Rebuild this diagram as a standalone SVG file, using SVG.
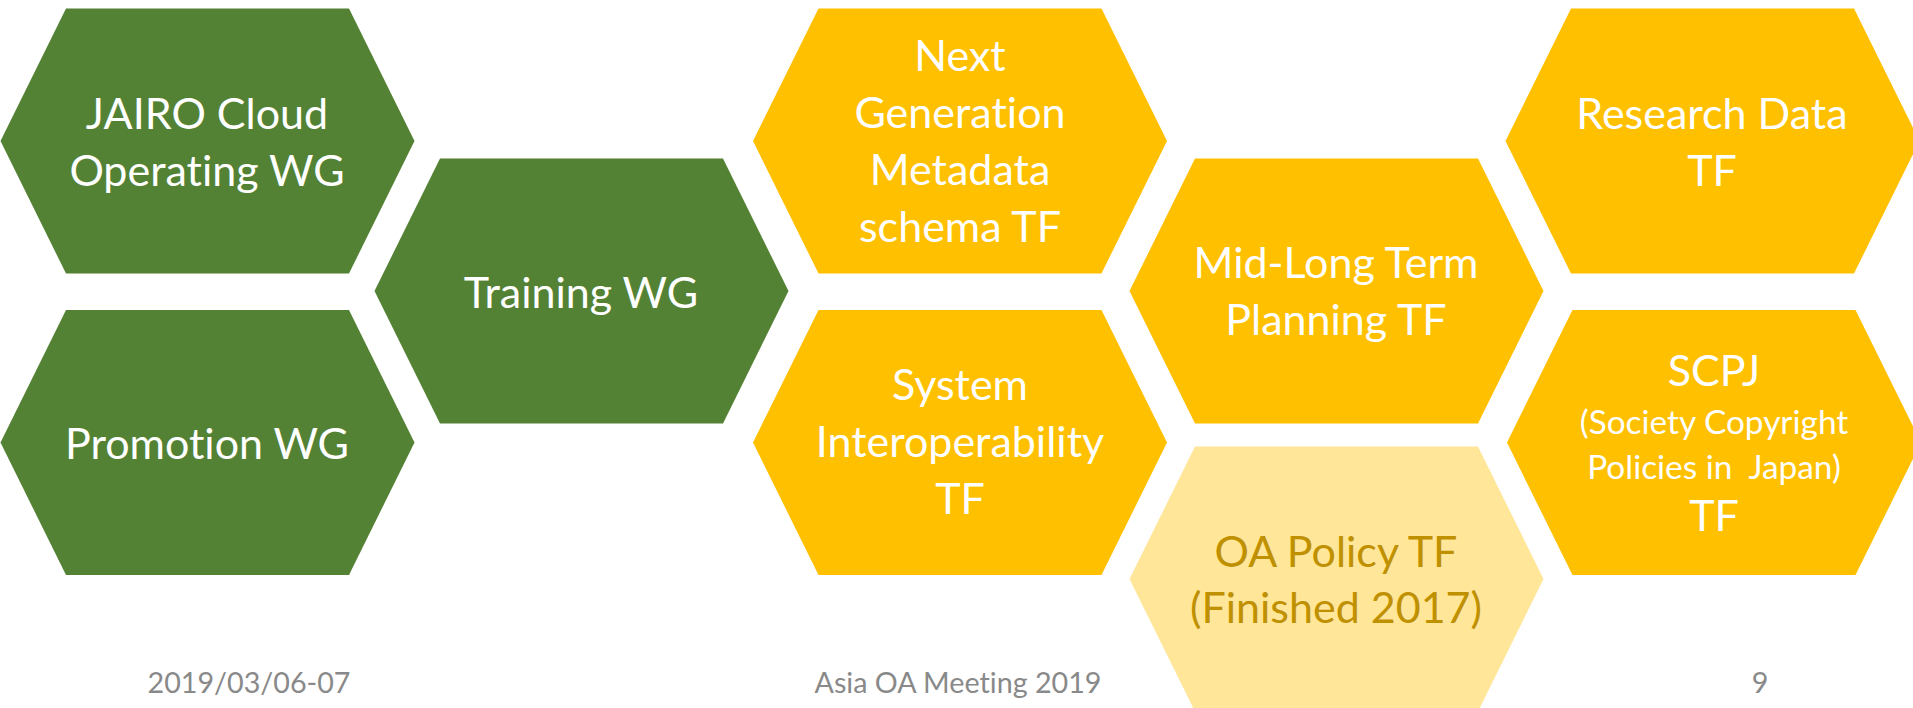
<svg xmlns="http://www.w3.org/2000/svg" xmlns:xlink="http://www.w3.org/1999/xlink" width="1913" height="708" viewBox="0 0 1913 708">
  <style>
    .wg { fill: #548235; }
    .tf { fill: #FFC000; }
    .done { fill: #FFE699; }
    text { font-family: Lato, "Liberation Sans", sans-serif; text-anchor: middle; font-variant-ligatures: none; font-feature-settings: "liga" 0; }
    .lbl { font-size: 43px; fill: #FFFFFF; }
    .lbl-done { font-size: 43px; fill: #BF9000; }
    .small { font-size: 33.4px; fill: #FFFFFF; white-space: pre; }
    .foot { font-size: 28.7px; fill: #898989; }
  </style>
  <defs>
    <polygon id="hex" points="-207,0 -141.5,-132.5 141.5,-132.5 207,0 141.5,132.5 -141.5,132.5"/>
  </defs>
  <rect width="1913" height="708" fill="#FFFFFF"/>

  <g id="jairo">
    <use href="#hex" xlink:href="#hex" class="wg" x="207.5" y="141"/>
    <text class="lbl" x="207" y="129">JAIRO Cloud</text>
    <text class="lbl" x="207" y="186">Operating WG</text>
  </g>
  <g id="promotion">
    <use href="#hex" xlink:href="#hex" class="wg" x="207.5" y="442.5"/>
    <text class="lbl" x="207" y="459">Promotion WG</text>
  </g>
  <g id="training">
    <use href="#hex" xlink:href="#hex" class="wg" x="581.5" y="291"/>
    <text class="lbl" x="581" y="308">Training WG</text>
  </g>
  <g id="nextgen">
    <use href="#hex" xlink:href="#hex" class="tf" x="960" y="141"/>
    <text class="lbl" x="960" y="71">Next</text>
    <text class="lbl" x="960" y="128">Generation</text>
    <text class="lbl" x="960" y="185">Metadata</text>
    <text class="lbl" x="960" y="242">schema TF</text>
  </g>
  <g id="interop">
    <use href="#hex" xlink:href="#hex" class="tf" x="960" y="442.5"/>
    <text class="lbl" x="960" y="400">System</text>
    <text class="lbl" x="960" y="457">Interoperability</text>
    <text class="lbl" x="960" y="514">TF</text>
  </g>
  <g id="midlong">
    <use href="#hex" xlink:href="#hex" class="tf" x="1336.5" y="291"/>
    <text class="lbl" x="1336" y="278">Mid-Long Term</text>
    <text class="lbl" x="1336" y="335">Planning TF</text>
  </g>
  <g id="oapolicy">
    <use href="#hex" xlink:href="#hex" class="done" x="1336.5" y="579"/>
    <text class="lbl-done" x="1336" y="567">OA Policy TF</text>
    <text class="lbl-done" x="1336" y="623">(Finished 2017)</text>
  </g>
  <g id="researchdata">
    <use href="#hex" xlink:href="#hex" class="tf" x="1712.5" y="141"/>
    <text class="lbl" x="1712" y="129">Research Data</text>
    <text class="lbl" x="1712" y="186">TF</text>
  </g>
  <g id="scpj">
    <use href="#hex" xlink:href="#hex" class="tf" x="1714" y="442.5"/>
    <text class="lbl" x="1714" y="386">SCPJ</text>
    <text class="small" x="1714" y="434">(Society Copyright</text>
    <text class="small" x="1714" y="479" xml:space="preserve">Policies in  Japan)</text>
    <text class="lbl" x="1714" y="531">TF</text>
  </g>

  <g id="connectors"></g>

  <g id="footer">
    <text class="foot" x="249" y="693">2019/03/06-07</text>
    <text class="foot" x="958" y="693">Asia OA Meeting 2019</text>
    <text class="foot" x="1760" y="693">9</text>
  </g>
</svg>
